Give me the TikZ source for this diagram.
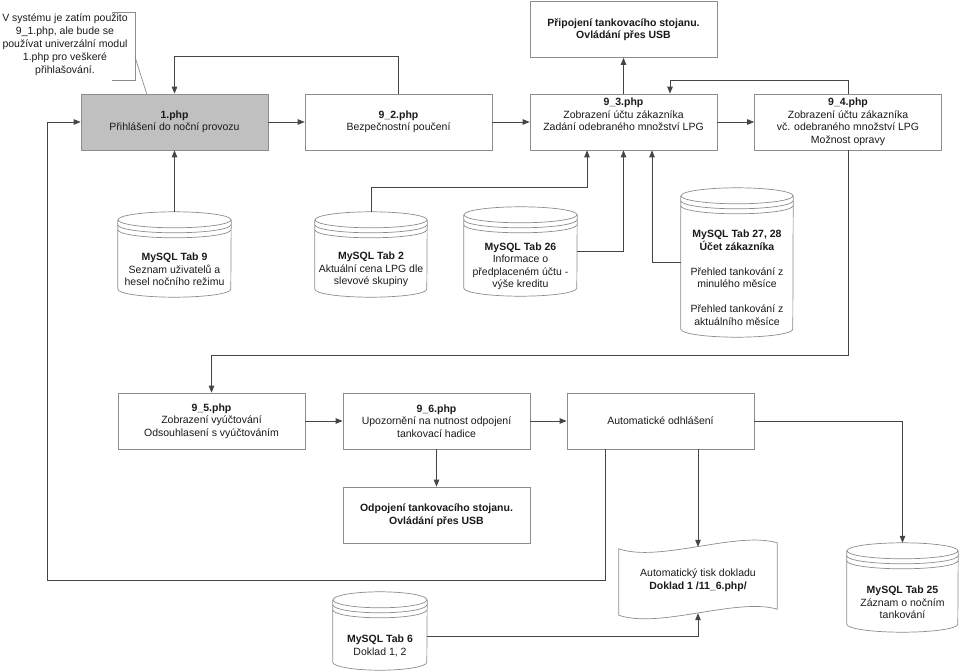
\documentclass[tikz,border=0pt]{standalone}
\usepackage{fontspec}
\setmainfont{Liberation Sans}
\usetikzlibrary{positioning}
\usetikzlibrary{arrows.meta}
\usetikzlibrary{calc}

\definecolor{linegray}{HTML}{454545}
\definecolor{boxgray}{HTML}{8C8C8C}
\definecolor{loginfill}{HTML}{C0C0C0}
\definecolor{textgray}{HTML}{1A1A1A}

\tikzset{
  page/.style={draw=boxgray, line width=0.7pt, fill=white, minimum width=187pt,
    minimum height=56pt, align=center, inner sep=2pt, text=textgray},
  flow/.style={draw=linegray, line width=0.8pt, -{Triangle[length=7pt,width=5.5pt]}},
  dbline/.style={draw=boxgray, line width=0.7pt},
}

% name, center x, top y, bottom y, width, text
\newcommand{\database}[6]{%
  \node[inner sep=0pt, minimum width=#5pt, minimum height={(#4-#3)*1pt}] (#1) at (#2, {(#3+#4)/2}) {};
  \draw[dbline] ($(#1.north)+(0,8)$) ellipse [x radius=#5pt/2, y radius=8pt];
  \draw[dbline] ($(#1.north west)+(0,13)$) arc [start angle=180, end angle=360, x radius=#5pt/2, y radius=8pt];
  \draw[dbline] ($(#1.north west)+(0,18)$) arc [start angle=180, end angle=360, x radius=#5pt/2, y radius=8pt];
  \draw[dbline] ($(#1.north west)+(0,8)$) -- ($(#1.south west)+(0,-8)$)
    arc [start angle=180, end angle=360, x radius=#5pt/2, y radius=8pt] -- ($(#1.north east)+(0,8)$);
  \node[align=center, text=textgray] at ($(#1.center)+(0,15)$) {#6};
}

\begin{document}
\begin{tikzpicture}[x=1pt, y=-1pt, font=\fontsize{10.5}{12.5}\selectfont]
    \useasboundingbox (0,0) rectangle (960,671);

    % top row
    \node[page, fill=loginfill] (Login) at (174.5,122) {\textbf{1.php}\\Přihlášení do noční provozu};
    \node[page] (Safety) at (398.5,122) {\textbf{9\_2.php}\\Bezpečnostní poučení};
    \node[page, text depth=15pt] (Account) at (623.5,122) {\textbf{9\_3.php}\\Zobrazení účtu zákazníka\\Zadání odebraného množství LPG};
    \node[page] (AccountCheck) at (848,122) {\textbf{9\_4.php}\\Zobrazení účtu zákazníka\\vč. odebraného množství LPG\\Možnost opravy};
    \node[page, font=\fontsize{10.5}{12.5}\selectfont\bfseries] (UsbConnect) at (623.5,29.5) {Připojení tankovacího stojanu.\\Ovládání přes USB};

    \node[align=center, text=textgray, font=\fontsize{10.5}{13}\selectfont] (Note) at (65,45) {V systému je zatím použito\\9\_1.php, ale bude se\\používat univerzální modul\\1.php pro veškeré\\přihlašování.};
    \draw[dbline] (112,12) -- (135,12) -- (135,80) -- (112,80);
    \draw[dbline] (135,57) -- ([xshift=66pt]Login.north west);

    % databases
    \database{TabNine}{174.5}{212}{297}{113}{\textbf{MySQL Tab 9}\\Seznam uživatelů a\\hesel nočního režimu}
    \database{TabTwo}{371}{212}{297}{112}{\textbf{MySQL Tab 2}\\Aktuální cena LPG dle\\slevové skupiny}
    \database{TabTwentySix}{520.5}{207}{296}{113}{\textbf{MySQL Tab 26}\\Informace o\\předplaceném účtu -\\výše kreditu}
    \database{TabAccount}{737}{188}{337}{112}{\textbf{MySQL Tab 27, 28}\\\textbf{Účet zákazníka}\\[12.5pt]Přehled tankování z\\minulého měsíce\\[12.5pt]Přehled tankování z\\aktuálního měsíce}
    \database{TabSix}{380}{592}{670}{94}{\textbf{MySQL Tab 6}\\Doklad 1, 2}
    \database{TabTwentyFive}{902.5}{543}{632}{111}{\textbf{MySQL Tab 25}\\Záznam o nočním\\tankování}

    % bottom row
    \node[page] (Billing) at (211.5,421) {\textbf{9\_5.php}\\Zobrazení vyúčtování\\Odsouhlasení s vyúčtováním};
    \node[page] (Warning) at (436.5,421) {\textbf{9\_6.php}\\Upozornění na nutnost odpojení\\tankovací hadice};
    \node[page] (Logout) at (660.5,421) {Automatické odhlášení};
    \node[page, font=\fontsize{10.5}{12.5}\selectfont\bfseries] (UsbDisconnect) at (436.5,515) {Odpojení tankovacího stojanu.\\Ovládání přes USB};

    \node[align=center, text=textgray, minimum width=158pt, minimum height=66pt] (Receipt) at (698,580) {Automatický tisk dokladu\\\textbf{Doklad 1 /11\_6.php/}};
    \draw[dbline] ($(Receipt.north west)+(0,2)$) .. controls +(40,14) and +(-40,-12) .. ($(Receipt.north east)+(0,-4)$)
        -- ($(Receipt.south east)+(0,-4)$) .. controls +(-40,-12) and +(40,14) .. ($(Receipt.south west)+(0,2)$) -- cycle;

    \coordinate (LoopCorner) at (47,580);

    % connectors
    \draw[flow] (Login.east) -- (Safety.west);
    \draw[flow] (Safety.east) -- (Account.west);
    \draw[flow] (Account.east) -- (AccountCheck.west);
    \draw[flow] (Account.north) -- (UsbConnect.south);
    \draw[flow] (Safety.north) -- ++(0,-37) -| (Login.north);
    \draw[flow] (AccountCheck.north) -- ++(0,-13) -| ([xshift=46.5pt]Account.north);
    \draw[flow] (TabNine.north) -- (Login.south);
    \draw[flow] (TabTwo.north) -- ++(0,-24) -| ([xshift=-36.5pt]Account.south);
    \draw[flow] (TabTwentySix.east) -| (Account.south);
    \draw[flow] (TabAccount.west) -| ([xshift=28.5pt]Account.south);
    \draw[flow] (AccountCheck.south) -- ++(0,205) -| (Billing.north);
    \draw[flow] (Billing.east) -- (Warning.west);
    \draw[flow] (Warning.east) -- (Logout.west);
    \draw[flow] (Warning.south) -- (UsbDisconnect.north);
    \draw[flow] ([xshift=37.5pt]Logout.south) -- (Receipt.north);
    \draw[flow] (Logout.east) -| (TabTwentyFive.north);
    \draw[flow] ([yshift=-5pt]TabSix.east) -| (Receipt.south);
    \draw[flow] ([xshift=-55.5pt]Logout.south) |- (LoopCorner) |- (Login.west);
\end{tikzpicture}
\end{document}
